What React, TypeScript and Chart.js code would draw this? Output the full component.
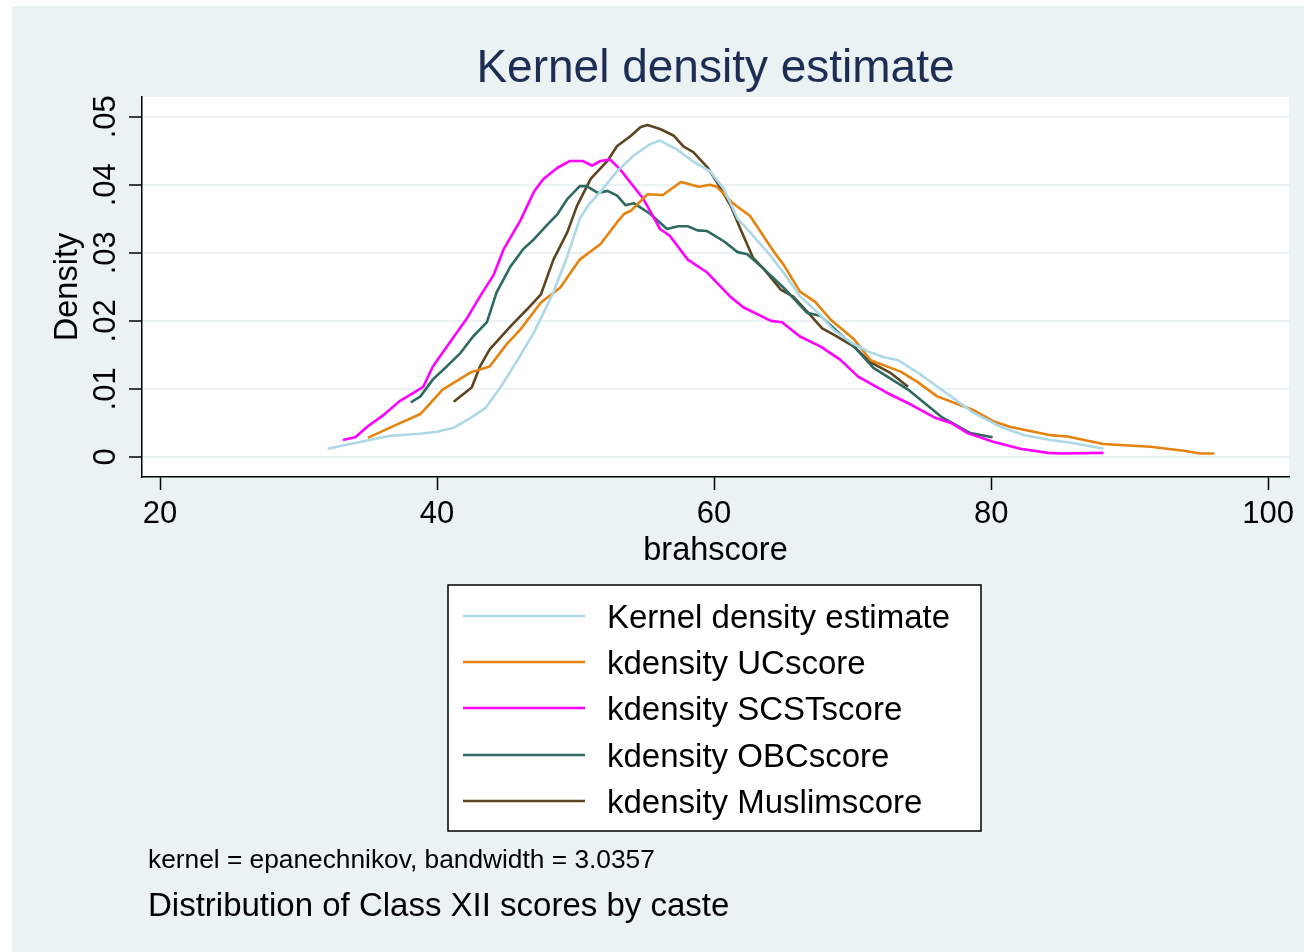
import React, { useEffect, useRef } from "react";
import { Chart, registerables } from "chart.js";

Chart.register(...registerables);

// ---- data ----
const seriesLabels = [
  "Kernel density estimate",
  "kdensity UCscore",
  "kdensity SCSTscore",
  "kdensity OBCscore",
  "kdensity Muslimscore",
];
const seriesColors = ["#ADD8E6", "#E6820E", "#FF00FF", "#2E6A62", "#5C4520"];

const allX = [32.1, 34.0, 36.6, 38.8, 40.0, 41.2, 42.4, 43.5, 44.6, 45.8, 47.0, 48.4, 49.4, 50.3, 51.0, 51.8, 53.0, 54.2, 55.4, 56.1, 57.3, 58.5, 59.7, 60.7, 61.7, 62.6, 63.9, 65.0, 66.2, 67.5, 68.6, 69.9, 71.1, 72.2, 73.3, 74.7, 76.4, 77.1, 78.7, 80.7, 82.4, 84.3, 86.0, 88.1];
const allY = [0.0012, 0.0020, 0.0031, 0.0034, 0.0037, 0.0043, 0.0057, 0.0072, 0.0103, 0.0142, 0.0183, 0.0242, 0.0295, 0.0350, 0.0372, 0.0390, 0.0420, 0.0443, 0.0460, 0.0465, 0.0452, 0.0434, 0.0420, 0.0394, 0.0350, 0.0330, 0.0300, 0.0271, 0.0236, 0.0212, 0.0187, 0.0168, 0.0155, 0.0147, 0.0142, 0.0124, 0.0099, 0.0089, 0.0065, 0.0044, 0.0032, 0.0025, 0.0020, 0.0012];

const ucX = [35.0, 36.8, 38.8, 40.4, 42.4, 43.8, 45.0, 46.0, 47.5, 48.9, 50.3, 51.8, 53.0, 53.5, 54.0, 55.2, 56.3, 57.6, 58.9, 59.7, 60.2, 61.4, 62.6, 64.3, 65.0, 66.2, 67.3, 68.4, 70.1, 71.3, 73.5, 74.7, 76.1, 78.7, 80.2, 81.4, 84.3, 85.5, 88.1, 91.5, 93.9, 95.1, 96.1];
const ucY = [0.0028, 0.0045, 0.0063, 0.0099, 0.0124, 0.0133, 0.0165, 0.0187, 0.0227, 0.0249, 0.0290, 0.0313, 0.0345, 0.0357, 0.0362, 0.0386, 0.0385, 0.0404, 0.0397, 0.0400, 0.0397, 0.0372, 0.0354, 0.0302, 0.0283, 0.0243, 0.0228, 0.0202, 0.0173, 0.0142, 0.0125, 0.0110, 0.0089, 0.0069, 0.0052, 0.0044, 0.0032, 0.0030, 0.0019, 0.0015, 0.0009, 0.0005, 0.0005];

const scstX = [33.2, 34.1, 35.0, 36.1, 37.3, 38.3, 39.0, 39.7, 40.7, 42.2, 43.1, 44.1, 44.8, 46.0, 47.0, 47.7, 48.7, 49.6, 50.5, 51.2, 51.8, 52.5, 53.2, 54.2, 54.9, 56.1, 56.8, 58.1, 59.5, 61.2, 62.1, 64.1, 64.9, 66.2, 67.7, 69.1, 70.4, 72.5, 74.2, 75.9, 77.1, 78.3, 80.2, 82.1, 84.1, 85.0, 88.1];
const scstY = [0.0025, 0.0029, 0.0045, 0.0061, 0.0082, 0.0094, 0.0103, 0.0133, 0.0162, 0.0205, 0.0236, 0.0268, 0.0305, 0.0347, 0.0390, 0.0409, 0.0425, 0.0435, 0.0435, 0.0428, 0.0435, 0.0437, 0.0423, 0.0397, 0.0379, 0.0335, 0.0325, 0.0290, 0.0271, 0.0235, 0.0220, 0.0200, 0.0198, 0.0177, 0.0162, 0.0143, 0.0118, 0.0094, 0.0077, 0.0058, 0.0050, 0.0035, 0.0022, 0.0012, 0.0006, 0.0005, 0.0006];

const obcX = [38.1, 38.8, 39.7, 40.7, 41.7, 42.6, 43.6, 44.3, 45.3, 46.2, 47.0, 48.0, 48.7, 49.4, 50.3, 50.8, 51.6, 52.3, 53.0, 53.6, 54.2, 55.4, 56.6, 57.4, 58.1, 58.8, 59.5, 60.7, 61.7, 62.4, 63.6, 65.0, 66.7, 67.7, 68.6, 70.1, 71.5, 74.0, 76.4, 78.5, 80.1];
const obcY = [0.0080, 0.0089, 0.0114, 0.0133, 0.0153, 0.0177, 0.0198, 0.0242, 0.0280, 0.0305, 0.0320, 0.0342, 0.0357, 0.0379, 0.0398, 0.0398, 0.0388, 0.0391, 0.0384, 0.0370, 0.0373, 0.0357, 0.0335, 0.0339, 0.0339, 0.0333, 0.0332, 0.0317, 0.0301, 0.0298, 0.0276, 0.0249, 0.0212, 0.0207, 0.0190, 0.0162, 0.0131, 0.0099, 0.0059, 0.0035, 0.0029];

const muslimX = [41.2, 42.5, 43.1, 43.8, 45.3, 46.5, 47.5, 48.4, 49.4, 50.1, 51.1, 52.3, 53.0, 54.0, 54.7, 55.2, 56.1, 57.1, 57.8, 58.5, 59.5, 60.2, 61.2, 61.9, 62.8, 63.6, 64.8, 65.7, 66.7, 67.8, 68.6, 70.1, 71.3, 72.7, 74.0];
const muslimY = [0.0081, 0.0102, 0.0133, 0.0158, 0.0192, 0.0217, 0.0239, 0.0290, 0.0330, 0.0369, 0.0409, 0.0435, 0.0457, 0.0472, 0.0485, 0.0488, 0.0482, 0.0472, 0.0456, 0.0448, 0.0426, 0.0404, 0.0369, 0.0335, 0.0293, 0.0276, 0.0246, 0.0236, 0.0214, 0.0189, 0.0180, 0.0162, 0.0139, 0.0124, 0.0103];

const xTicks = [20, 40, 60, 80, 100];
const yTicks = [0, 0.01, 0.02, 0.03, 0.04, 0.05];
const yTickLabels = ["0", ".01", ".02", ".03", ".04", ".05"];

const titleText = "Kernel density estimate";
const xTitle = "brahscore";
const yTitle = "Density";
const noteText = "kernel = epanechnikov, bandwidth = 3.0357";
const captionText = "Distribution of Class XII scores by caste";

const FONT = '"Liberation Sans", Arial, Helvetica, sans-serif';

const seriesX = [allX, ucX, scstX, obcX, muslimX];
const seriesY = [allY, ucY, scstY, obcY, muslimY];

export default function App() {
  const ref = useRef<HTMLCanvasElement | null>(null);

  useEffect(() => {
    const canvas = ref.current;
    if (!canvas) return;

    const decor = {
      id: "stataDecor",
      beforeDraw(chart: any) {
        const { ctx, chartArea: a } = chart;
        ctx.save();
        ctx.fillStyle = "#EAF2F3";
        ctx.fillRect(0, 0, chart.width, chart.height);
        ctx.fillStyle = "#FFFFFF";
        ctx.fillRect(a.left, a.top, a.right - a.left, a.bottom - a.top);
        ctx.restore();
      },
      afterDraw(chart: any) {
        const { ctx, chartArea: a } = chart;
        const xs = chart.scales.x;
        const ys = chart.scales.y;
        const cx = (a.left + a.right) / 2;
        const cy = (a.top + a.bottom) / 2;
        ctx.save();
        // title
        ctx.fillStyle = "#1E2D54";
        ctx.font = `46px ${FONT}`;
        ctx.textAlign = "center";
        ctx.textBaseline = "alphabetic";
        ctx.fillText(titleText, cx, 76);

        ctx.fillStyle = "#000";
        // x tick labels
        ctx.font = `31px ${FONT}`;
        xTicks.forEach((v) => {
          ctx.fillText(String(v), xs.getPixelForValue(v), 517);
        });
        // x title
        ctx.font = `32.5px ${FONT}`;
        ctx.fillText(xTitle, cx, 554);
        // y tick labels (rotated)
        ctx.font = `31px ${FONT}`;
        yTicks.forEach((v, i) => {
          ctx.save();
          ctx.translate(103, ys.getPixelForValue(v));
          ctx.rotate(-Math.PI / 2);
          ctx.fillText(yTickLabels[i], 0, 0);
          ctx.restore();
        });
        // y title
        ctx.save();
        ctx.font = `32.5px ${FONT}`;
        ctx.translate(65, cy);
        ctx.rotate(-Math.PI / 2);
        ctx.fillText(yTitle, 0, 0);
        ctx.restore();

        // legend box
        const bx = 436, by = 579, bw = 533, bh = 246;
        ctx.fillStyle = "#FFFFFF";
        ctx.fillRect(bx, by, bw, bh);
        ctx.strokeStyle = "#000";
        ctx.lineWidth = 1.5;
        ctx.strokeRect(bx, by, bw, bh);
        const rowY = [610, 656, 702, 749, 795];
        chart.data.datasets.forEach((ds: any, i: number) => {
          ctx.strokeStyle = ds.borderColor;
          ctx.lineWidth = 2.6;
          ctx.beginPath();
          ctx.moveTo(451, rowY[i]);
          ctx.lineTo(573, rowY[i]);
          ctx.stroke();
          ctx.fillStyle = "#000";
          ctx.font = `33px ${FONT}`;
          ctx.textAlign = "left";
          ctx.fillText(ds.label, 595, rowY[i] + 12);
        });

        // notes
        ctx.textAlign = "left";
        ctx.fillStyle = "#000";
        ctx.font = `26.3px ${FONT}`;
        ctx.fillText(noteText, 136, 862);
        ctx.font = `33px ${FONT}`;
        ctx.fillText(captionText, 136, 910);
        ctx.restore();
      },
    };

    const chart = new Chart(canvas, {
      type: "line",
      data: {
        datasets: seriesLabels.map((label, i) => ({
          label,
          data: seriesX[i].map((x, j) => ({ x, y: seriesY[i][j] })),
          borderColor: seriesColors[i],
          backgroundColor: seriesColors[i],
          borderWidth: 2.6,
          pointRadius: 0,
          tension: 0,
          fill: false,
          borderJoinStyle: "round",
        })),
      },
      options: {
        animation: false,
        responsive: false,
        devicePixelRatio: 1,
        layout: { padding: { left: 0, top: 91, right: 15, bottom: 455 } },
        plugins: {
          legend: { display: false },
          title: { display: false },
          tooltip: { enabled: false },
        },
        scales: {
          x: {
            type: "linear",
            min: 18.7,
            max: 101.5,
            afterBuildTicks: (s: any) => {
              s.ticks = xTicks.map((v) => ({ value: v }));
            },
            afterFit: (s: any) => {
              s.height = 20;
            },
            ticks: { display: false },
            grid: {
              drawOnChartArea: false,
              drawTicks: true,
              tickLength: 13,
              tickColor: "#000",
              tickWidth: 1.5,
            },
            border: { display: true, color: "#000", width: 1.5 },
          },
          y: {
            type: "linear",
            min: -0.00295,
            max: 0.0529,
            afterBuildTicks: (s: any) => {
              s.ticks = yTicks.map((v) => ({ value: v }));
            },
            afterFit: (s: any) => {
              s.width = 130;
            },
            ticks: { display: false },
            grid: {
              color: "#EAF2F3",
              lineWidth: 2,
              drawTicks: true,
              tickLength: 13,
              tickColor: "#000",
              tickWidth: 1.5,
            },
            border: { display: true, color: "#000", width: 1.5 },
          },
        },
      } as any,
      plugins: [decor],
    });

    return () => chart.destroy();
  }, []);

  return (
    <div
      style={{
        position: "fixed",
        left: 0,
        top: 0,
        width: 1304,
        height: 952,
        background: "#FFFFFF",
        overflow: "hidden",
      }}
    >
      <canvas
        ref={ref}
        width={1292}
        height={946}
        style={{ position: "absolute", left: 12, top: 6, width: 1292, height: 946 }}
      />
    </div>
  );
}
